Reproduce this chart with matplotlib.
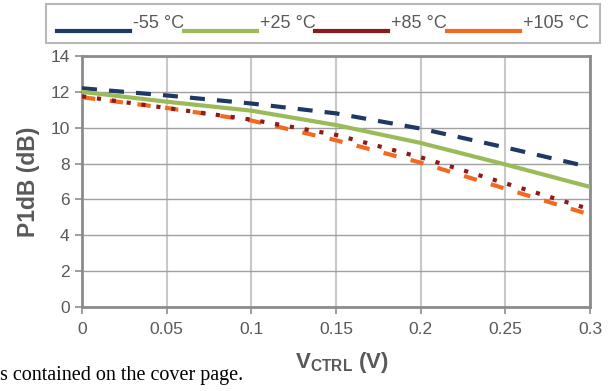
# P1dB vs VCTRL

import numpy as np
import matplotlib.pyplot as plt
from matplotlib.lines import Line2D
from matplotlib.legend_handler import HandlerLine2D

plt.rcParams['font.family'] = ['Liberation Sans', 'DejaVu Sans']
plt.rcParams['mathtext.fontset'] = 'custom'
plt.rcParams['mathtext.rm'] = 'Liberation Sans'
plt.rcParams['mathtext.bf'] = 'Liberation Sans:bold'

# data
vctrl = [0.0, 0.05, 0.1, 0.15, 0.2, 0.25, 0.3]
p_m55 = [12.2, 11.8, 11.35, 10.8, 9.95, 8.9, 7.8]
p_p25 = [12.0, 11.45, 10.95, 10.15, 9.15, 7.95, 6.7]
p_p85 = [11.75, 11.1, 10.45, 9.6, 8.35, 6.9, 5.45]
p_p105 = [11.7, 11.1, 10.4, 9.3, 8.05, 6.6, 5.15]

labels = ['-55 °C', '+25 °C', '+85 °C', '+105 °C']
colors = ['#1F3864', '#9BBB59', '#8E1B1B', '#F26A21']

xticks = [0, 0.05, 0.1, 0.15, 0.2, 0.25, 0.3]
xticklabels = ['0', '0.05', '0.1', '0.15', '0.2', '0.25', '0.3']
yticks = [0, 2, 4, 6, 8, 10, 12, 14]

grey = '#595959'


# 凡例の線を文字より少し下に描く
class LowLine(HandlerLine2D):
	def create_artists(self, legend, orig_handle, xdescent, ydescent, width, height, fontsize, trans):
		return super().create_artists(legend, orig_handle, xdescent, ydescent + 13,
			width, height, fontsize, trans)


figure = plt.figure(figsize=(6.13, 3.91), dpi=100)
axis = figure.add_axes([0.1338, 0.2148, 0.8287, 0.642])

axis.plot(vctrl, p_m55, color=colors[0], lw=3, dashes=[3.6, 2.9], zorder=3)
axis.plot(vctrl, p_p25, color=colors[1], lw=3, zorder=3)
axis.plot(vctrl, p_p105, color=colors[3], lw=3, dashes=[3.2, 3.5], zorder=3)
axis.plot(vctrl, p_p85, color=colors[2], lw=3, dashes=[1.0, 2.6], zorder=4)

axis.set_xlim(0, 0.3)
axis.set_ylim(0, 14)
axis.set_xticks(xticks)
axis.set_xticklabels(xticklabels)
axis.set_yticks(yticks)

# grid
axis.xaxis.grid(True, color='#C8C8C8', lw=1.5)
axis.yaxis.grid(True, color='#A0A0A0', lw=1.0)
axis.set_axisbelow(True)

for s in axis.spines.values():
	s.set_color('#8C8C8C')
	s.set_linewidth(2)

axis.tick_params(axis='both', colors='#8C8C8C', labelcolor=grey, labelsize=12.5,
	length=5, width=1.2, direction='out')
axis.tick_params(axis='x', pad=6)
axis.tick_params(axis='y', pad=4)

axis.set_ylabel('P1dB (dB)', fontsize=16.5, fontweight='bold', color=grey, labelpad=7)
figure.text(0.557, 0.072, r'V$_{\mathbf{CTRL}}$ (V)', fontsize=16, fontweight='bold',
	color=grey, ha='center', va='center')

# legend
handles = [Line2D([], [], color=c, lw=3) for c in colors]
leg = figure.legend(handles, labels, loc='upper left',
	bbox_to_anchor=(46 / 613, 1 - 4 / 391),
	ncol=4, fontsize=13, frameon=True, fancybox=False,
	edgecolor='#A6A6A6', handlelength=4.05, handletextpad=0.15, columnspacing=0.0,
	labelcolor=grey, borderaxespad=0, borderpad=0.6,
	handler_map={Line2D: LowLine()})
leg.get_frame().set_linewidth(1.5)

# cropped text from the document page
figure.text(0.0, 0.028, 's contained on the cover page.', fontsize=14.5,
	family=['Liberation Serif', 'DejaVu Serif'], color='black', ha='left', va='baseline')

figure.savefig('out.png', dpi=100)
